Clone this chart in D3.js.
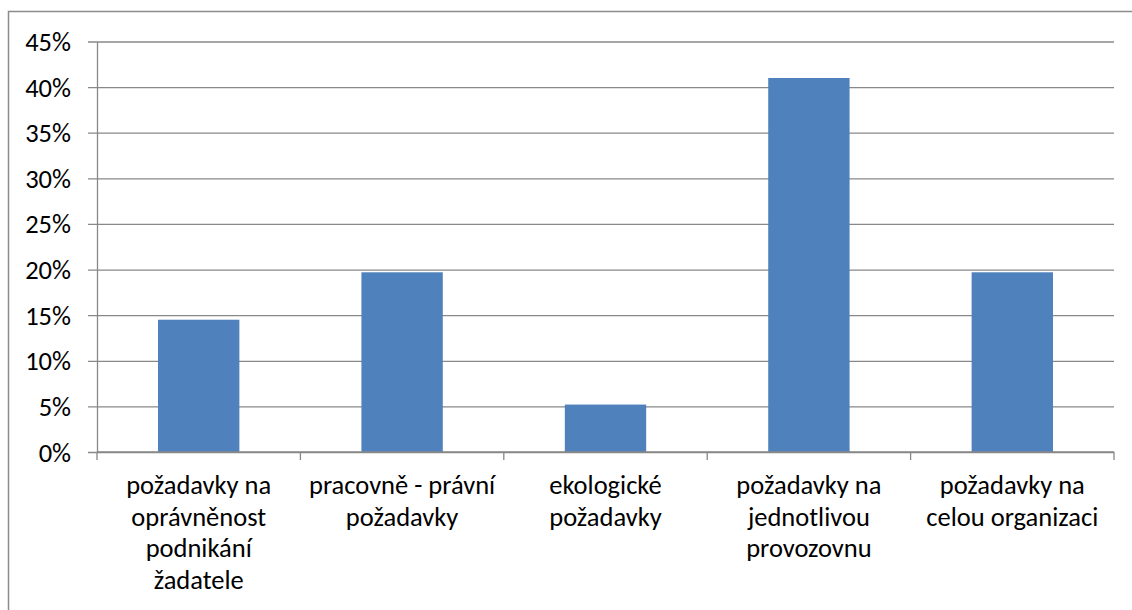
<!DOCTYPE html>
<html>
<head>
<meta charset="utf-8">
<script src="https://cdn.jsdelivr.net/npm/d3@7"></script>
<style>
  html, body { margin: 0; padding: 0; background: #fff; }
  svg { display: block; }
  text { font-family: Carlito, Lato, "Open Sans", sans-serif; fill: #000; }
</style>
</head>
<body>
<svg id="chart" width="1132" height="610"></svg>
<script>
const categories = [
  "požadavky na\noprávněnost\npodnikání\nžadatele",
  "pracovně - právní\npožadavky",
  "ekologické\npožadavky",
  "požadavky na\njednotlivou\nprovozovnu",
  "požadavky na\ncelou organizaci"
];
const values = [0.145, 0.197, 0.052, 0.410, 0.197];
const yTicks = [0, 0.05, 0.10, 0.15, 0.20, 0.25, 0.30, 0.35, 0.40, 0.45];

(function () {
const svg = d3.select("#chart");
const plotL = 97, plotR = 1114, plotT = 41.5, plotB = 452;
const fontSize = 26.5;
const gridColor = "#888888";

// outer frame
svg.append("rect")
  .attr("x", 8.5).attr("y", 11.5)
  .attr("width", 1140).attr("height", 620)
  .attr("fill", "none").attr("stroke", "#8c8c8c").attr("stroke-width", 1.5);

const x = d3.scaleBand().domain(d3.range(categories.length)).range([plotL, plotR]).padding(0);
const y = d3.scaleLinear().domain([0, 0.45]).range([plotB, plotT]);

// gridlines + y ticks
const yAxis = d3.axisLeft(y).tickValues(yTicks).tickSize(9).tickSizeOuter(0)
  .tickFormat(d => Math.round(d * 100) + "%");
const gy = svg.append("g").attr("transform", `translate(${plotL},0)`).call(yAxis);
gy.select(".domain").attr("stroke", gridColor).attr("stroke-width", 1.3);
gy.selectAll(".tick line").attr("stroke", gridColor).attr("stroke-width", 1.3)
  .attr("x2", plotR - plotL).attr("x1", -9);
gy.selectAll(".tick text")
  .attr("x", -26).attr("dy", "0.34em")
  .style("font-size", fontSize + "px").style("font-family", "Carlito, Lato, 'Open Sans', sans-serif")
  .attr("fill", "#000");

// bars
const barW = x.bandwidth() * 0.4;
svg.append("g").selectAll("rect").data(values).join("rect")
  .attr("x", (d, i) => x(i) + (x.bandwidth() - barW) / 2)
  .attr("y", d => y(d))
  .attr("width", barW)
  .attr("height", d => y(0) - y(d))
  .attr("fill", "#4F81BD");

// x axis
const gx = svg.append("g").attr("transform", `translate(0,${plotB})`);
gx.append("line").attr("x1", plotL).attr("x2", plotR).attr("y1", 0).attr("y2", 0)
  .attr("stroke", gridColor).attr("stroke-width", 1.3);
const bounds = d3.range(categories.length + 1).map(i => i < categories.length ? x(i) : plotR);
gx.selectAll("line.tk").data(bounds).join("line").attr("class", "tk")
  .attr("x1", d => d).attr("x2", d => d).attr("y1", 0).attr("y2", 8)
  .attr("stroke", gridColor).attr("stroke-width", 1.3);

// category labels
const lineH = 31.7;
const lbl = svg.append("g").selectAll("text").data(categories).join("text")
  .attr("text-anchor", "middle")
  .style("font-size", fontSize + "px");
lbl.each(function(d, i) {
  const t = d3.select(this);
  d.split("\n").forEach((ln, k) => {
    t.append("tspan").attr("x", x(i) + x.bandwidth() / 2).attr("y", 494 + k * lineH).text(ln);
  });
});
})();
</script>
</body>
</html>
